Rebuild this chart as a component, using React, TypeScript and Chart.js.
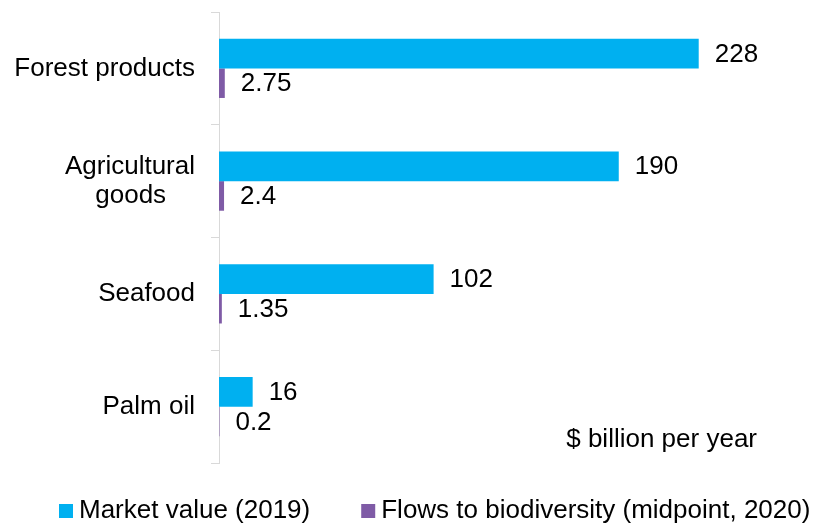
import React, { useEffect, useRef } from "react";
import { Chart, registerables } from "chart.js";

Chart.register(...registerables);

const categories: (string | string[])[] = [
  "Forest products",
  ["Agricultural", "goods    "],
  "Seafood",
  "Palm oil",
];
const marketValue = [228, 190, 102, 16];
const flowsToBiodiversity = [2.75, 2.4, 1.35, 0.2];
const marketLabels = ["228", "190", "102", "16"];
const flowLabels = ["2.75", "2.4", "1.35", "0.2"];
const seriesNames = ["Market value (2019)", "Flows to biodiversity (midpoint, 2020)"];
const seriesColors = ["#00B0F0", "#7F5BA6"];
const unitNote = "$ billion per year";

const FONT = '"Liberation Sans", Arial, sans-serif';

export default function App() {
  const ref = useRef<HTMLCanvasElement | null>(null);

  useEffect(() => {
    if (!ref.current) return;
    const valueLabels = [marketLabels, flowLabels];

    const labelPlugin = {
      id: "customLabels",
      afterDatasetsDraw(chart: any) {
        const ctx = chart.ctx;
        ctx.save();
        ctx.font = `26px ${FONT}`;
        ctx.fillStyle = "#000";
        ctx.textBaseline = "middle";
        ctx.textAlign = "left";
        chart.data.datasets.forEach((_ds: any, di: number) => {
          const meta = chart.getDatasetMeta(di);
          meta.data.forEach((bar: any, i: number) => {
            ctx.fillText(valueLabels[di][i], bar.x + 16, bar.y + 1);
          });
        });
        // unit note
        ctx.textAlign = "right";
        ctx.fillText(unitNote, chart.chartArea.right + 12, 440);
        // legend
        let x = 59;
        const y = 511;
        ctx.textAlign = "left";
        chart.data.datasets.forEach((ds: any) => {
          ctx.fillStyle = ds.backgroundColor;
          ctx.fillRect(x, y - 7, 14, 14);
          ctx.fillStyle = "#000";
          ctx.fillText(ds.label, x + 20, y);
          x += 20 + ctx.measureText(ds.label).width + 51;
        });
        ctx.restore();
      },
    };

    const chart = new Chart(ref.current, {
      type: "bar",
      data: {
        labels: categories,
        datasets: [
          {
            label: seriesNames[0],
            data: marketValue,
            backgroundColor: seriesColors[0],
            borderWidth: 0,
            categoryPercentage: 0.525,
            barPercentage: 1,
          },
          {
            label: seriesNames[1],
            data: flowsToBiodiversity,
            backgroundColor: seriesColors[1],
            borderWidth: 0,
            categoryPercentage: 0.525,
            barPercentage: 1,
          },
        ],
      },
      options: {
        indexAxis: "y",
        animation: false,
        responsive: false,
        devicePixelRatio: 1,
        layout: { padding: { top: 12, bottom: 62, left: 0, right: 80 } },
        plugins: {
          legend: { display: false },
          tooltip: { enabled: false },
        },
        scales: {
          x: {
            display: false,
            min: 0,
            max: 250,
          },
          y: {
            afterFit: (scale: any) => {
              scale.width = 219;
              scale.paddingTop = 0;
              scale.paddingBottom = 0;
            },
            grid: {
              display: true,
              drawOnChartArea: false,
              drawTicks: true,
              tickLength: 8,
              color: "#D9D9D9",
              offset: true,
            },
            border: { display: true, color: "#D9D9D9", width: 1 },
            ticks: {
              color: "#000",
              padding: 16,
              font: { family: FONT, size: 26, lineHeight: 1.1 },
            },
          },
        },
      },
      plugins: [labelPlugin],
    });
    return () => chart.destroy();
  }, []);

  return (
    <div style={{ position: "absolute", left: 0, top: 0, width: 825, height: 525, background: "#fff" }}>
      <canvas ref={ref} width={825} height={525} style={{ display: "block", width: 825, height: 525 }} />
    </div>
  );
}
